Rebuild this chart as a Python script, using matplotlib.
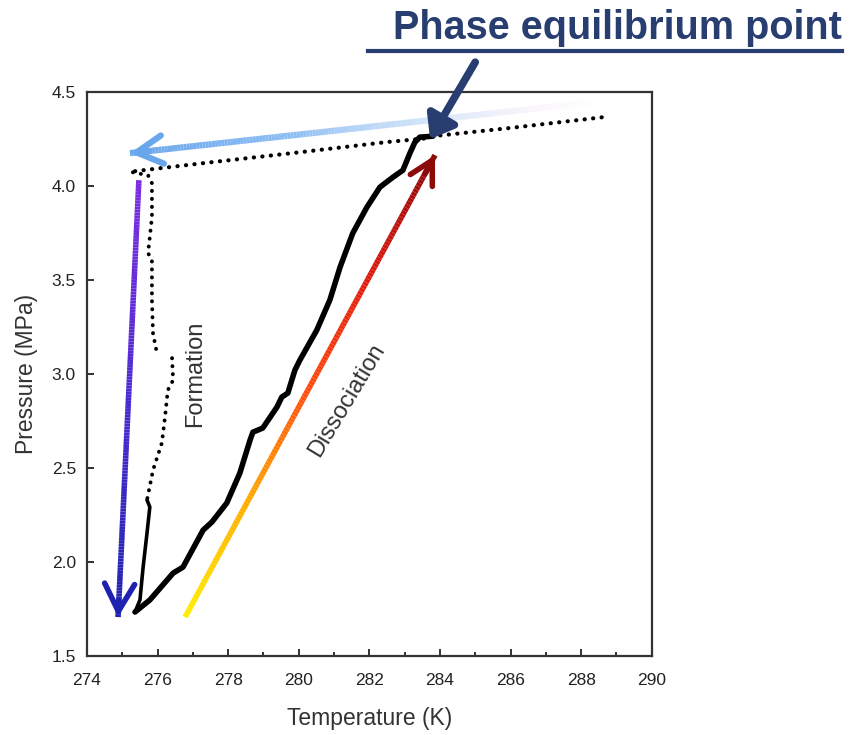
import numpy as np
import matplotlib
matplotlib.use('Agg')
import matplotlib.pyplot as plt
from matplotlib.collections import LineCollection
from matplotlib.colors import LinearSegmentedColormap
from matplotlib.lines import Line2D

plt.rcParams['font.family'] = ['Liberation Sans', 'DejaVu Sans']

# dissociation run (heating), K / MPa
diss_T = [275.36, 275.78, 276.44, 276.72, 277.29, 277.54, 277.96, 278.33, 278.62, 278.70,
          278.98, 279.38, 279.52, 279.69, 279.89, 280.03, 280.51, 280.88, 281.17, 281.53,
          281.93, 282.30, 282.67, 282.95, 283.15, 283.29, 283.43, 283.80]
diss_P = [1.734, 1.798, 1.941, 1.973, 2.170, 2.213, 2.314, 2.473, 2.649, 2.691,
          2.713, 2.824, 2.878, 2.899, 3.021, 3.074, 3.234, 3.394, 3.569, 3.750,
          3.888, 3.995, 4.048, 4.085, 4.176, 4.234, 4.261, 4.266]

# formation run (cooling): sparse upper part, second branch, dense lower part
form1_T = [275.30, 275.73, 275.84, 275.84, 275.73, 275.84, 275.84, 275.87, 275.98]
form1_P = [4.074, 4.058, 4.016, 3.835, 3.644, 3.606, 3.394, 3.218, 3.112]
form2_T = [276.41, 276.44, 276.29, 276.21, 276.12, 275.87, 275.70]
form2_P = [3.085, 2.968, 2.915, 2.771, 2.633, 2.489, 2.330]
form3_T = [275.70, 275.78, 275.70, 275.59, 275.50, 275.36]
form3_P = [2.330, 2.293, 2.154, 1.973, 1.798, 1.734]

# isochoric line through the equilibrium point
eq_T = [275.36, 277.5, 280.0, 282.5, 283.63, 283.80, 286.0, 288.61]
eq_P = [4.080, 4.127, 4.180, 4.235, 4.255, 4.266, 4.310, 4.367]

# guide arrows (start, end) in K / MPa
cool_arrow = [(288.5, 4.45), (275.22, 4.176)]
drop_arrow = [(275.47, 4.032), (274.88, 1.707)]
heat_arrow = [(276.78, 1.707), (283.86, 4.165)]
eq_point = (283.72, 4.25)
eq_label_from = (285.0, 4.66)

xticks = np.arange(274, 291, 2)
yticks = np.arange(1.5, 4.51, 0.5)

fig = plt.figure(figsize=(8.53, 7.35), dpi=100)
ax = fig.add_axes([0.102, 0.1075, 0.662, 0.767])
ax.set_xlim(274, 290)
ax.set_ylim(1.5, 4.5)


def grad_arrow(p0, p1, cmap, lw, head_color, n=150, ms=30):
    t = np.linspace(0, 1, n)
    xs = p0[0] + (p1[0] - p0[0]) * t
    ys = p0[1] + (p1[1] - p0[1]) * t
    pts = np.array([xs, ys]).T.reshape(-1, 1, 2)
    segs = np.concatenate([pts[:-1], pts[1:]], axis=1)
    lc = LineCollection(segs, cmap=cmap, linewidths=lw, capstyle='butt', zorder=2)
    lc.set_array(t[:-1])
    ax.add_collection(lc)
    back = (p1[0] - (p1[0] - p0[0]) * 0.04, p1[1] - (p1[1] - p0[1]) * 0.04)
    ax.annotate('', xy=p1, xytext=back,
                arrowprops=dict(arrowstyle='->,head_length=0.55,head_width=0.3',
                                color=head_color, lw=lw, mutation_scale=ms,
                                shrinkA=0, shrinkB=0), zorder=2)


cool_cmap = LinearSegmentedColormap.from_list(
    'cool', [(1.0, 0.85, 0.95, 0.0), (0.75, 0.85, 0.97, 0.6), (0.55, 0.74, 0.95, 1.0), (0.42, 0.66, 0.93, 1.0)])
drop_cmap = LinearSegmentedColormap.from_list('drop', ['#7b2ee0', '#4a2ad0', '#1f22b0'])
heat_cmap = LinearSegmentedColormap.from_list('heat', ['#ffee00', '#ffaa00', '#ff4a10', '#dd1a10', '#8b0a0a'])

grad_arrow(cool_arrow[0], cool_arrow[1], cool_cmap, 4.5, '#6aa6ec', ms=34)
grad_arrow(drop_arrow[0], drop_arrow[1], drop_cmap, 4, '#1f22b0', ms=36)
grad_arrow(heat_arrow[0], heat_arrow[1], heat_cmap, 4, '#8b0a0a', ms=30)

# data curves
dot = (0, (0.05, 2.0))
ax.plot(eq_T, eq_P, color='black', lw=3, ls=dot, dash_capstyle='round', zorder=3)
ax.plot(form1_T, form1_P, color='black', lw=2.8, ls=dot, dash_capstyle='round', zorder=3)
ax.plot(form2_T, form2_P, color='black', lw=2.8, ls=dot, dash_capstyle='round', zorder=3)
ax.plot(form3_T, form3_P, color='black', lw=2.6, solid_capstyle='round', zorder=3)
ax.plot(diss_T, diss_P, color='black', lw=4, solid_capstyle='round',
        solid_joinstyle='round', zorder=3)

ax.text(277.06, 3.0, 'Formation', rotation=90, ha='center', va='center',
        fontsize=17, color='#333333')
ax.text(281.36, 2.86, 'Dissociation', rotation=59, ha='center', va='center',
        fontsize=17, color='#333333')

# annotation for the equilibrium point
ax.annotate('', xy=eq_point, xytext=eq_label_from, annotation_clip=False,
            arrowprops=dict(arrowstyle='-|>,head_length=0.6,head_width=0.45',
                            color='#283e70', lw=5.5, mutation_scale=22,
                            shrinkA=0, shrinkB=0), zorder=5)
fig.text(0.987, 0.962, 'Phase equilibrium point', ha='right', va='center',
         fontsize=28.5, fontweight='bold', color='#283e70')
fig.add_artist(Line2D([368 / 853, 842 / 853], [1 - 51 / 735, 1 - 51 / 735],
                      color='#283e70', lw=3))

ax.set_xticks(xticks)
ax.set_xticks(np.arange(275, 290, 2), minor=True)
ax.set_yticks(yticks)
ax.set_yticklabels([f'{v:.1f}' for v in yticks])
ax.tick_params(direction='in', length=5, width=1.3, colors='#222222', labelsize=12.5)
ax.tick_params(axis='x', pad=12)
ax.tick_params(axis='y', pad=8)
ax.tick_params(which='minor', direction='in', length=3, width=1.3, colors='#222222')
for s in ax.spines.values():
    s.set_linewidth(1.6)
    s.set_color('#333333')

ax.set_xlabel('Temperature (K)', fontsize=16.5, color='#333333', labelpad=14)
ax.set_ylabel('Pressure (MPa)', fontsize=16.5, color='#333333', labelpad=10)

fig.savefig('out.png', dpi=100)
